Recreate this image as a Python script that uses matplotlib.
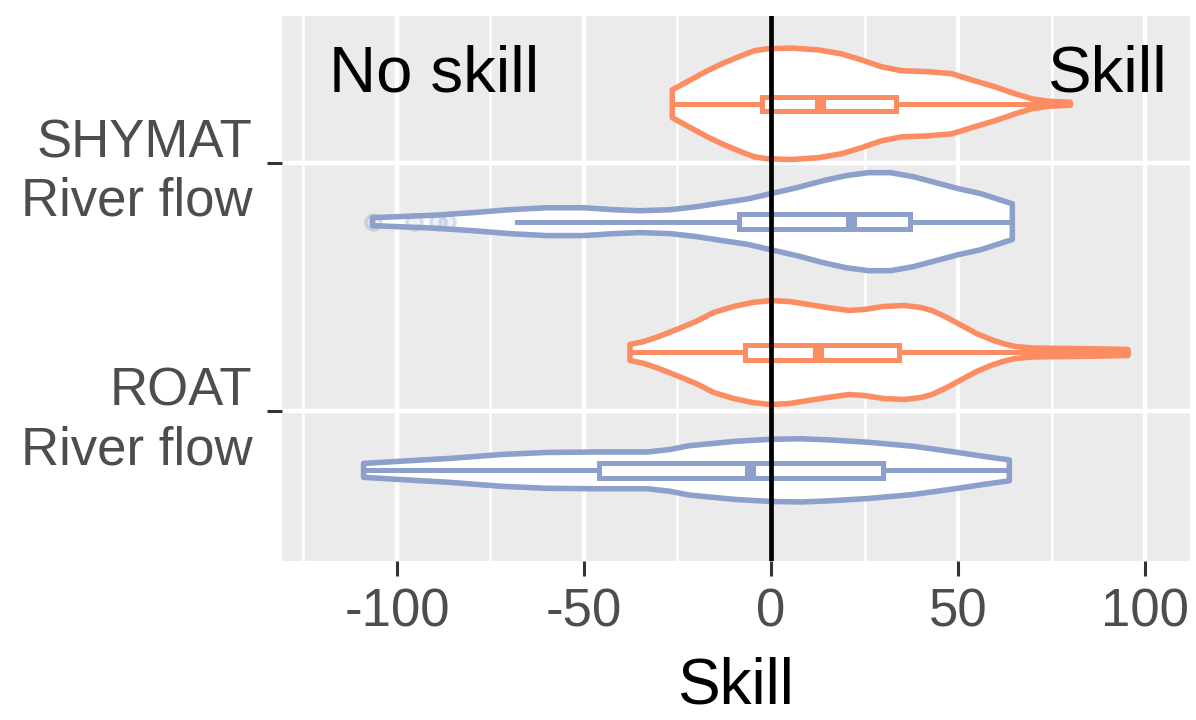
import numpy as np
import matplotlib.pyplot as plt
from matplotlib.colors import to_rgba
from matplotlib.transforms import ScaledTranslation

plt.rcParams['font.family'] = ['Liberation Sans', 'DejaVu Sans']

#-----------------DATA----------------------------------------------#
categories = ['ROAT\nRiver flow', 'SHYMAT\nRiver flow']
cat_pos = [1, 2]

orange = '#FC8D62'
blue = '#8DA0CB'

# violin outlines: skill value and half width of the violin (axis units)
shy_or_x = [-26.4, -21.4, -17, -12.5, -8, -4.5, -1, 5.4, 12.5, 18.8, 24.1, 29.5,
            34.9, 42, 48.3, 54.5, 59.9, 65.3, 69.7, 74.2, 80]
shy_or_w = [.056, .097, .133, .165, .193, .213, .221, .224, .217, .201, .177, .149,
            .133, .129, .121, .092, .068, .040, .020, .010, .006]

shy_bl_x = [-106.5, -100, -90, -80, -70, -60, -50, -42, -35, -27, -20, -13, -6, 0,
            7, 14, 20, 26, 32, 38, 44, 50, 56, 62, 64.5]
shy_bl_w = [.016, .020, .026, .036, .048, .056, .056, .048, .044, .048, .060, .076,
            .092, .113, .137, .165, .185, .197, .197, .181, .157, .133, .113, .084, .072]

roat_or_x = [-37.7, -34, -30, -24.5, -20, -15.3, -10, -5, 0, 5, 10, 15, 20.8, 25, 30,
             35.6, 40, 43, 47, 51.4, 55, 58.8, 62, 65.3, 70, 80, 90, 95.4]
roat_or_w = [.032, .044, .064, .097, .125, .161, .185, .201, .209, .205, .193, .181,
             .169, .173, .185, .189, .181, .169, .141, .105, .076, .052, .036, .024,
             .018, .016, .014, .012]

roat_bl_x = [-108.9, -100, -86, -72, -60, -46, -33, -27, -22, -15, -9.5, 0, 8, 15, 26,
             38, 50, 57, 63.7]
roat_bl_w = [.028, .036, .048, .064, .072, .074, .074, .084, .099, .109, .117, .125,
             .127, .123, .113, .097, .072, .056, .042]

# boxplot stats: whislo, q1, med, q3, whishi, fliers
shy_or_box = [-26.4, -2.3, 13.1, 33.3, 80, []]
shy_bl_box = [-68, -8.5, 21.3, 37.2, 64.5, [-106.5, -95.5, -89, -86.5]]
roat_or_box = [-37.7, -7, 12.5, 34.3, 95.4, []]
roat_bl_box = [-108.9, -45.9, -5.5, 29.9, 63.7, []]

#-----------------PLOT----------------------------------------------#
fig = plt.figure(figsize=(11.96, 7.2), dpi=100)
ax = fig.add_axes([0.2355, 0.2213, 0.7595, 0.7565])
ax.set_facecolor('#EBEBEB')

dodge = 0.237
groups = [
    (2 + dodge, shy_or_x, shy_or_w, shy_or_box, orange),
    (2 - dodge, shy_bl_x, shy_bl_w, shy_bl_box, blue),
    (1 + dodge, roat_or_x, roat_or_w, roat_or_box, orange),
    (1 - dodge, roat_bl_x, roat_bl_w, roat_bl_box, blue),
]

for center, vx, vw, box, col in groups:
    vx = np.array(vx)
    vw = np.array(vw)
    xs = np.concatenate([vx, vx[::-1]])
    ys = np.concatenate([center + vw, (center - vw)[::-1]])
    ax.fill(xs, ys, facecolor='white', edgecolor=col, lw=4.0, zorder=2,
            joinstyle='round')

    stats = [{'whislo': box[0], 'q1': box[1], 'med': box[2], 'q3': box[3],
              'whishi': box[4], 'fliers': box[5]}]
    ax.bxp(stats, positions=[center], widths=0.058, orientation='horizontal',
           patch_artist=True, showcaps=False, manage_ticks=False,
           boxprops=dict(facecolor='white', edgecolor=col, lw=3.6),
           whiskerprops=dict(color=col, lw=3.6),
           medianprops=dict(color=col, lw=8, solid_capstyle='butt'),
           flierprops=dict(marker='o', markersize=11, markerfacecolor=to_rgba(col, 0.15),
                           markeredgecolor=to_rgba(col, 0.3), markeredgewidth=2.5))

# zero line
ax.axvline(0, color='black', lw=3.4, zorder=5)

ax.text(-90, 2.285, 'No skill', fontsize=47, ha='center', va='baseline', color='black')
ax.text(90, 2.285, 'Skill', fontsize=47, ha='center', va='baseline', color='black')

ax.set_xlim(-130.8, 112)
ax.set_ylim(0.4, 2.59)
ax.set_xticks([-100, -50, 0, 50, 100])
ax.set_xticklabels(['-100', '-50', '0', '50', '100'])
ax.set_xticks([-125, -75, -25, 25, 75], minor=True)
ax.set_yticks(cat_pos)
ax.set_yticklabels(categories, linespacing=1.22)
for lab in ax.get_yticklabels():
    lab.set_transform(lab.get_transform() + ScaledTranslation(0, 3 / 72, fig.dpi_scale_trans))

ax.tick_params(which='major', length=11, width=2.2, color='#333333',
               labelsize=38, labelcolor='#4D4D4D', pad=8)
ax.tick_params(axis='y', pad=10)
ax.tick_params(which='minor', length=0)
ax.grid(which='major', color='white', lw=3.2)
ax.grid(which='minor', axis='x', color='white', lw=1.8)
ax.set_axisbelow(True)
for s in ax.spines.values():
    s.set_visible(False)

ax.set_xlabel('Skill', fontsize=46, color='black', labelpad=14)

fig.savefig('out.png', dpi=100)
